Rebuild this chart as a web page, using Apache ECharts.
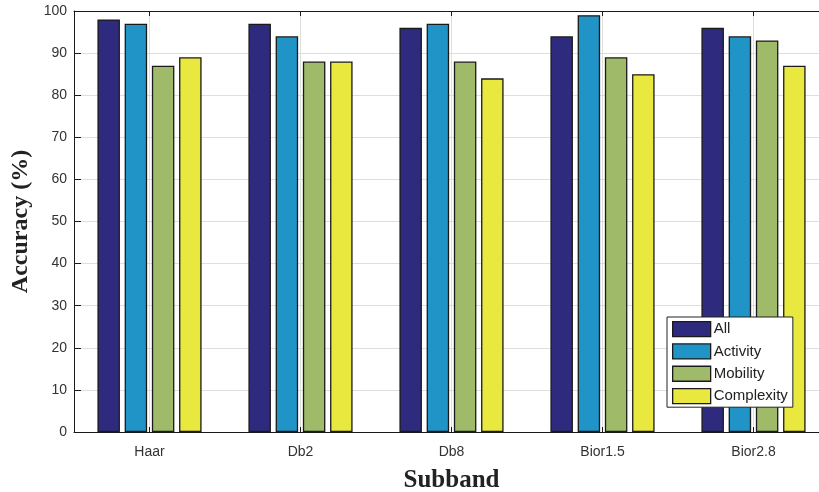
<!DOCTYPE html>
<html>
<head>
<meta charset="utf-8">
<script src="https://cdn.jsdelivr.net/npm/echarts@6/dist/echarts.min.js"></script>
<style>html,body{margin:0;padding:0;background:#fff;}#c{width:819px;height:492px;}</style>
</head>
<body>
<div id="c"></div>
<script>
var categories = ['Haar', 'Db2', 'Db8', 'Bior1.5', 'Bior2.8'];
var seriesNames = ['All', 'Activity', 'Mobility', 'Complexity'];
var allVals = [98, 97, 96, 94, 96];
var activityVals = [97, 94, 97, 99, 94];
var mobilityVals = [87, 88, 88, 89, 93];
var complexityVals = [89, 88, 84, 85, 87];
var yTicks = [0, 10, 20, 30, 40, 50, 60, 70, 80, 90, 100];

var colors = ['#2e2b7f', '#2194c7', '#9fba68', '#e8e83e'];
var values = [allVals, activityVals, mobilityVals, complexityVals];

var chart = echarts.init(document.getElementById('c'), null, {renderer: 'canvas'});
var series = seriesNames.map(function (n, i) {
  return {
    name: n, type: 'bar', data: values[i], xAxisIndex: 0, yAxisIndex: 0,
    barWidth: 22.5, barGap: '21%',
    itemStyle: {color: colors[i], borderColor: '#1a1a1a', borderWidth: 1.3},
    emphasis: {disabled: true}
  };
});

chart.setOption({
  animation: false,
  grid: {left: 74, top: 11, width: 755, height: 421, containLabel: false, outerBoundsMode: 'none'},
  legend: {
    orient: 'vertical', left: 667, top: 317,
    data: seriesNames,
    itemWidth: 38, itemHeight: 15, itemGap: 6,
    padding: [4, 5, 3, 5],
    backgroundColor: '#fff', borderColor: '#222', borderWidth: 1, borderRadius: 0,
    icon: 'rect',
    itemStyle: {borderColor: '#1a1a1a', borderWidth: 1.3},
    textStyle: {fontFamily: 'Liberation Sans, Arial, sans-serif', fontSize: 15, lineHeight: 15, color: '#222', padding: [0, 0, 0, -2]}
  },
  xAxis: [{
    type: 'category', data: categories, position: 'bottom',
    axisLine: {show: true, lineStyle: {color: '#1a1a1a', width: 1}},
    axisTick: {show: true, inside: true, alignWithLabel: true, length: 5, lineStyle: {color: '#1a1a1a'}},
    axisLabel: {fontFamily: 'Liberation Sans, Arial, sans-serif', fontSize: 14, color: '#333', margin: 13},
    splitLine: {show: true, alignWithLabel: true, lineStyle: {color: '#dedede', width: 1}},
    name: 'Subband', nameLocation: 'middle', nameGap: 36,
    nameTextStyle: {fontFamily: 'Liberation Serif, Times New Roman, serif', fontWeight: 'bold', fontSize: 25, color: '#222'}
  }, {
    type: 'category', data: categories, position: 'top',
    axisLine: {show: true, lineStyle: {color: '#1a1a1a', width: 1}},
    axisTick: {show: true, inside: true, alignWithLabel: true, length: 5, lineStyle: {color: '#1a1a1a'}},
    axisLabel: {show: false}, splitLine: {show: false}
  }],
  yAxis: [{
    type: 'value', min: 0, max: 100, interval: 10,
    axisLine: {show: true, lineStyle: {color: '#1a1a1a', width: 1}},
    axisTick: {show: true, inside: true, length: 7, lineStyle: {color: '#1a1a1a'}},
    axisLabel: {fontFamily: 'Liberation Sans, Arial, sans-serif', fontSize: 14, color: '#333', margin: 7,
      formatter: function (v) { return yTicks.indexOf(v) >= 0 ? String(v) : ''; }},
    splitLine: {show: true, lineStyle: {color: '#dedede', width: 1}},
    name: 'Accuracy (%)', nameLocation: 'middle', nameGap: 37,
    nameTextStyle: {fontFamily: 'Liberation Serif, Times New Roman, serif', fontWeight: 'bold', fontSize: 24, color: '#222'}
  }],
  series: series
});
</script>
</body>
</html>
